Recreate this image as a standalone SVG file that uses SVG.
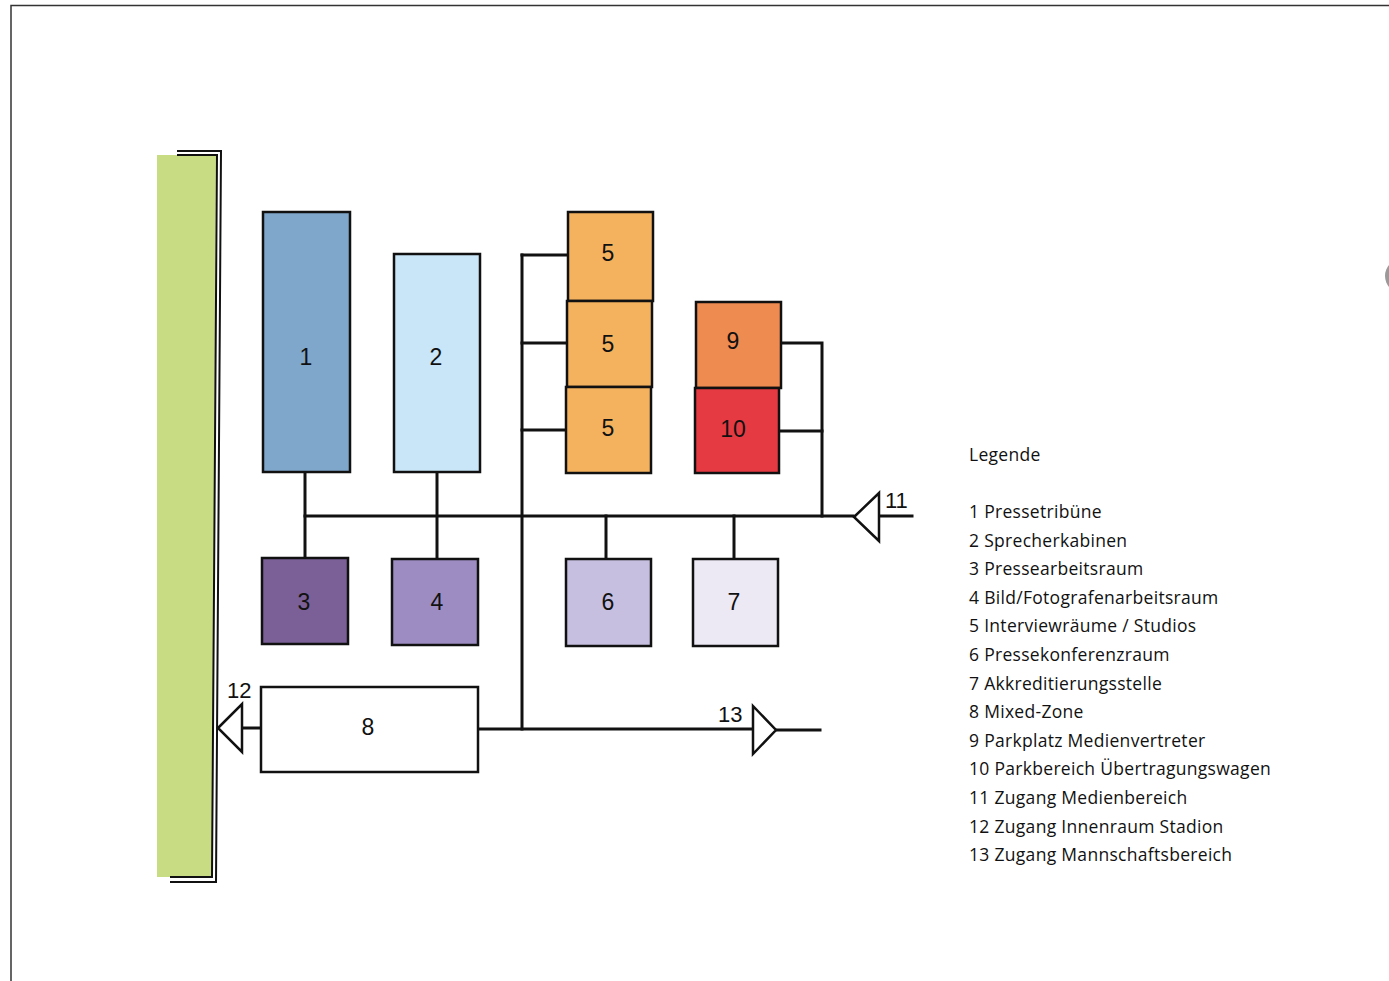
<svg xmlns="http://www.w3.org/2000/svg" width="1389" height="981" viewBox="0 0 1389 981">
  <style>
    .box { stroke: #111; stroke-width: 2.5; }
    .wire { fill: none; stroke: #111; stroke-width: 3; stroke-linecap: square; }
    .arrow { fill: #fff; stroke: #111; stroke-width: 2.5; stroke-linejoin: miter; }
    .num { font-family: "Liberation Sans", Arial, sans-serif; font-size: 23px; fill: #111; text-anchor: middle; }
    .tag { font-family: "Liberation Sans", Arial, sans-serif; font-size: 22px; fill: #111; }
    .legend { font-family: "Open Sans", "Liberation Sans", sans-serif; font-size: 17.5px; letter-spacing: 0.3px; fill: #111; }
  </style>

  <rect width="1389" height="981" fill="#fff"/>

  <!-- page frame -->
  <path d="M11 981 V5.5 H1389" fill="none" stroke="#333" stroke-width="1.5"/>
  <circle cx="1402" cy="276" r="17" fill="#9a9a9a"/>

  <!-- stadium side: green strip with double edge -->
  <g id="stadium">
    <path d="M157 155 H216 L212 877 H157 Z" fill="#c8dc84"/>
    <path d="M177 151 H221 L216 882 H170" fill="none" stroke="#111" stroke-width="2"/>
    <path d="M177 155 H217 L212 877 H170" fill="none" stroke="#111" stroke-width="2"/>
  </g>

  <!-- connectors -->
  <g id="connectors">
    <path class="wire" d="M305 516 H853"/>
    <path class="wire" d="M305 472 V558"/>
    <path class="wire" d="M437 472 V559"/>
    <path class="wire" d="M522 255 V729"/>
    <path class="wire" d="M522 255 H568"/>
    <path class="wire" d="M522 343 H567"/>
    <path class="wire" d="M522 430 H566"/>
    <path class="wire" d="M606 516 V559"/>
    <path class="wire" d="M734 516 V559"/>
    <path class="wire" d="M781 343 H822 V516"/>
    <path class="wire" d="M779 431 H822"/>
    <path class="wire" d="M879 516 H912"/>
    <path class="wire" d="M478 729 H753"/>
    <path class="wire" d="M776 730 H820"/>
    <path class="wire" d="M242 728 H261"/>
  </g>

  <!-- access points -->
  <g id="access-11">
    <polygon class="arrow" points="854,517 879,493 879,541"/>
    <text class="tag" x="885" y="508">11</text>
  </g>
  <g id="access-12">
    <polygon class="arrow" points="218,728 242,704 242,752"/>
    <text class="tag" x="227" y="698">12</text>
  </g>
  <g id="access-13">
    <polygon class="arrow" points="753,706 776,730 753,754"/>
    <text class="tag" x="718" y="722">13</text>
  </g>

  <!-- rooms -->
  <g id="room-1"><rect class="box" x="263" y="212" width="87" height="260" fill="#7fa7cc"/><text class="num" x="306" y="365">1</text></g>
  <g id="room-2"><rect class="box" x="394" y="254" width="86" height="218" fill="#c8e6f7"/><text class="num" x="436" y="365">2</text></g>
  <g id="room-5a"><rect class="box" x="568" y="212" width="85" height="89" fill="#f5b25e"/><text class="num" x="608" y="261">5</text></g>
  <g id="room-5b"><rect class="box" x="567" y="301" width="85" height="86" fill="#f5b25e"/><text class="num" x="608" y="352">5</text></g>
  <g id="room-5c"><rect class="box" x="566" y="387" width="85" height="86" fill="#f5b25e"/><text class="num" x="608" y="436">5</text></g>
  <g id="room-9"><rect class="box" x="696" y="302" width="85" height="86" fill="#ee8b50"/><text class="num" x="733" y="349">9</text></g>
  <g id="room-10"><rect class="box" x="695" y="388" width="84" height="85" fill="#e63a42"/><text class="num" x="733" y="437">10</text></g>
  <g id="room-3"><rect class="box" x="262" y="558" width="86" height="86" fill="#7a6096"/><text class="num" x="304" y="610">3</text></g>
  <g id="room-4"><rect class="box" x="392" y="559" width="86" height="86" fill="#9d8cc2"/><text class="num" x="437" y="610">4</text></g>
  <g id="room-6"><rect class="box" x="566" y="559" width="85" height="87" fill="#c6bfdf"/><text class="num" x="608" y="610">6</text></g>
  <g id="room-7"><rect class="box" x="693" y="559" width="85" height="87" fill="#ece8f4"/><text class="num" x="734" y="610">7</text></g>
  <g id="room-8"><rect class="box" x="261" y="687" width="217" height="85" fill="#fff"/><text class="num" x="368" y="735">8</text></g>

  <!-- legend -->
  <g id="legend" class="legend">
    <text x="969" y="461">Legende</text>
    <text x="969" y="518">1 Pressetribüne</text>
    <text x="969" y="547">2 Sprecherkabinen</text>
    <text x="969" y="575">3 Pressearbeitsraum</text>
    <text x="969" y="604">4 Bild/Fotografenarbeitsraum</text>
    <text x="969" y="632">5 Interviewräume / Studios</text>
    <text x="969" y="661">6 Pressekonferenzraum</text>
    <text x="969" y="690">7 Akkreditierungsstelle</text>
    <text x="969" y="718">8 Mixed-Zone</text>
    <text x="969" y="747">9 Parkplatz Medienvertreter</text>
    <text x="969" y="775">10 Parkbereich Übertragungswagen</text>
    <text x="969" y="804">11 Zugang Medienbereich</text>
    <text x="969" y="833">12 Zugang Innenraum Stadion</text>
    <text x="969" y="861">13 Zugang Mannschaftsbereich</text>
  </g>
</svg>
